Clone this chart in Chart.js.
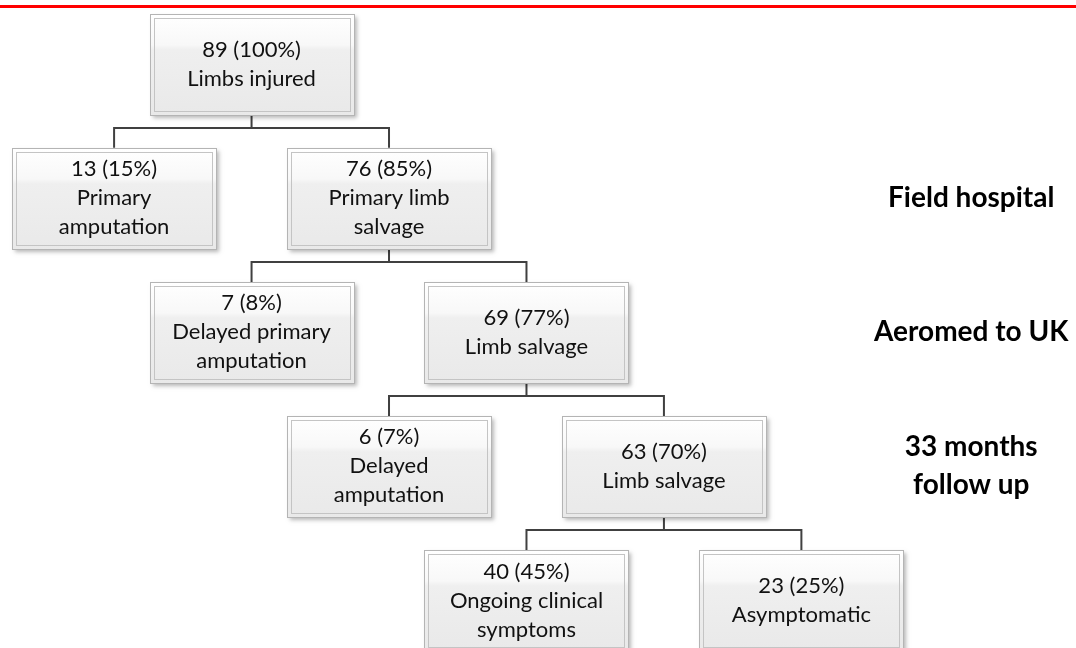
<!DOCTYPE html>
<html>
<head>
<meta charset="utf-8">
<script src="https://cdn.jsdelivr.net/npm/chart.js@4"></script>
<style>
  html, body { margin: 0; padding: 0; background: #fff; }
  #wrap { position: relative; width: 1076px; height: 648px; overflow: hidden; }
  #redLine { position: absolute; left: 0; top: 5px; width: 1076px; height: 3px; background: #ff0000; }
</style>
</head>
<body>
<div id="wrap">
  <canvas id="flow" width="1076" height="648"></canvas>
  <div id="redLine"></div>
</div>
<script>
// ==============
// DATA
// ==============
const nodeCounts   = [89, 13, 76, 7, 69, 6, 63, 40, 23];
const nodePercents = [100, 15, 85, 8, 77, 7, 70, 45, 25];
const nodeLabels = [
    ["Limbs injured"],
    ["Primary", "amputation"],
    ["Primary limb", "salvage"],
    ["Delayed primary", "amputation"],
    ["Limb salvage"],
    ["Delayed", "amputation"],
    ["Limb salvage"],
    ["Ongoing clinical", "symptoms"],
    ["Asymptomatic"]
];
const nodeParents = [-1, 0, 0, 2, 2, 4, 4, 6, 6];

const stageLevels = [2, 3, 4];
const stageNames  = ["Field hospital", "Aeromed to UK", ["33 months", "follow up"]];

// ==============
// TREE LAYOUT (level = depth, column = parent column -/+ 1)
// ==============
let levels = [];
let cols = [];
let kids = {};
nodeParents.forEach(function (p, i) {
    if (p < 0) {
        levels[i] = 1;
        cols[i] = 0;
    } else {
        kids[p] = kids[p] || [];
        levels[i] = levels[p] + 1;
        cols[i] = cols[p] + (kids[p].length === 0 ? -1 : 1);
        kids[p].push(i);
    }
});
let minCol = Math.min(...cols);
let points = cols.map((c, i) => ({ x: c - minCol, y: levels[i] }));

// ==============
// BOX + CONNECTOR PLUGIN
// ==============
const BOX_W = 204;
const BOX_H = 101;

const flowPlugin = {
    id: "flowBoxes",
    afterDatasetsDraw(chart) {
        let ctx = chart.ctx;
        let pts = chart.getDatasetMeta(0).data;

        // connectors
        ctx.save();
        ctx.strokeStyle = "#404040";
        ctx.lineWidth = 2;
        Object.keys(kids).forEach(function (p) {
            let par = pts[p];
            let bottom = par.y + BOX_H / 2;
            let barY = Math.round(bottom + 13);
            let xs = kids[p].map(k => pts[k].x);
            ctx.beginPath();
            ctx.moveTo(par.x, bottom);
            ctx.lineTo(par.x, barY);
            ctx.moveTo(Math.min(...xs) - 1, barY);
            ctx.lineTo(Math.max(...xs) + 1, barY);
            kids[p].forEach(function (k) {
                ctx.moveTo(pts[k].x, barY);
                ctx.lineTo(pts[k].x, pts[k].y - BOX_H / 2);
            });
            ctx.stroke();
        });
        ctx.restore();

        // boxes
        pts.forEach(function (pt, i) {
            let x = Math.round(pt.x - BOX_W / 2) + 0.5;
            let y = Math.round(pt.y - BOX_H / 2) + 0.5;

            ctx.save();
            ctx.shadowColor = "rgba(0,0,0,0.28)";
            ctx.shadowBlur = 4;
            ctx.shadowOffsetX = 2;
            ctx.shadowOffsetY = 2;
            ctx.fillStyle = "#f0f0f0";
            ctx.fillRect(x, y, BOX_W, BOX_H);
            ctx.restore();

            let g = ctx.createLinearGradient(0, y, 0, y + BOX_H);
            g.addColorStop(0, "#ffffff");
            g.addColorStop(0.3, "#f8f8f8");
            g.addColorStop(0.35, "#efefef");
            g.addColorStop(1, "#e9e9e9");
            ctx.fillStyle = g;
            ctx.fillRect(x, y, BOX_W, BOX_H);

            ctx.lineWidth = 1;
            ctx.strokeStyle = "#b4b4b4";
            ctx.strokeRect(x, y, BOX_W, BOX_H);
            ctx.strokeStyle = "#c4c4c4";
            ctx.strokeRect(x + 4, y + 4, BOX_W - 8, BOX_H - 8);

            // text
            let lines = [nodeCounts[i] + " (" + nodePercents[i] + "%)"].concat(nodeLabels[i]);
            let lh = 29;
            ctx.fillStyle = "#111";
            ctx.font = "22px Lato";
            ctx.textAlign = "center";
            ctx.textBaseline = "middle";
            lines.forEach(function (t, j) {
                ctx.fillText(t, pt.x, pt.y + (j - (lines.length - 1) / 2) * lh);
            });
        });
    }
};

// ==============
// CHART
// ==============
let ctx = document.getElementById("flow").getContext("2d");
new Chart(ctx, {
    type: "scatter",
    data: {
        datasets: [{ data: points, pointRadius: 0, pointHoverRadius: 0 }]
    },
    options: {
        responsive: false,
        animation: false,
        events: [],
        layout: { padding: 0 },
        plugins: { legend: { display: false }, tooltip: { enabled: false } },
        scales: {
            x: { type: "linear", display: false, min: -0.83, max: 5.47 },
            y: {
                type: "linear",
                position: "right",
                reverse: true,
                bounds: "data",
                min: 0.52,
                max: 5.355,
                border: { display: false },
                grid: { display: false },
                afterFit: function (s) {
                    s.width = 210;
                    s.paddingTop = 0;
                    s.paddingBottom = 0;
                },
                afterBuildTicks: function (s) {
                    s.ticks = stageLevels.map(v => ({ value: v }));
                },
                ticks: {
                    padding: 0,
                    crossAlign: "center",
                    autoSkip: false,
                    color: "#000",
                    font: { family: "Lato", size: 28, weight: "bold", lineHeight: 1.36 },
                    callback: function (v) {
                        let k = stageLevels.indexOf(v);
                        return k >= 0 ? stageNames[k] : "";
                    }
                }
            }
        }
    },
    plugins: [flowPlugin]
});
</script>
</body>
</html>
